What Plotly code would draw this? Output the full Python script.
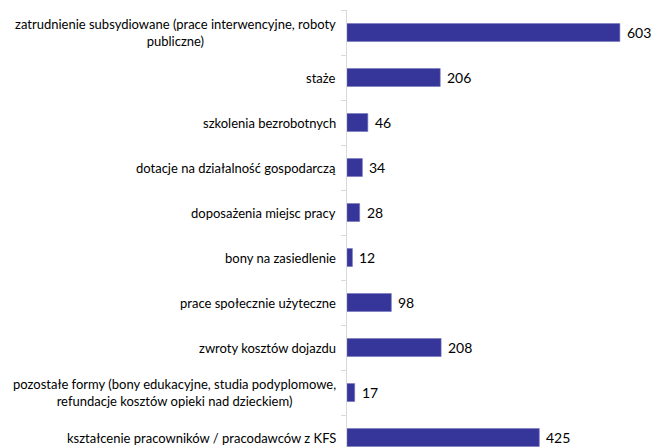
import plotly.graph_objects as go

categories = [
    "zatrudnienie subsydiowane (prace interwencyjne, roboty<br>publiczne)",
    "staże",
    "szkolenia bezrobotnych",
    "dotacje na działalność gospodarczą",
    "doposażenia miejsc pracy",
    "bony na zasiedlenie",
    "prace społecznie użyteczne",
    "zwroty kosztów dojazdu",
    "pozostałe formy (bony edukacyjne, studia podyplomowe,<br>refundacje kosztów opieki nad dzieckiem)",
    "kształcenie pracowników / pracodawców z KFS",
]
values = [603, 206, 46, 34, 28, 12, 98, 208, 17, 425]

idx = list(range(len(categories)))

fig = go.Figure(
    go.Bar(
        x=values,
        y=idx,
        orientation="h",
        width=0.4,
        marker=dict(color="#36359a", line=dict(color="#7675bd", width=0.6)),
        cliponaxis=False,
        hoverinfo="x+y",
    )
)

for i, c in zip(idx, categories):
    fig.add_annotation(
        x=0, xref="paper", y=i, yref="y",
        text=c, showarrow=False,
        xanchor="right", yanchor="middle", align="center",
        xshift=-9,
        font=dict(family="Lato", size=13, color="#000000"),
    )

for i, v in zip(idx, values):
    fig.add_annotation(
        x=v, xref="x", y=i, yref="y",
        text=str(v), showarrow=False,
        xanchor="left", yanchor="middle",
        xshift=5,
        font=dict(family="Lato", size=14, color="#000000"),
    )

fig.update_layout(
    width=652, height=447,
    margin=dict(l=347, r=0, t=10, b=0),
    paper_bgcolor="white", plot_bgcolor="white",
    showlegend=False,
    font=dict(family="Lato"),
    xaxis=dict(range=[0, 674], visible=False, showgrid=False, zeroline=False),
    yaxis=dict(
        range=[9.21, -0.5],
        tickmode="array",
        tickvals=[i - 0.5 for i in idx] + [len(idx) - 0.5],
        ticktext=[""] * (len(idx) + 1),
        ticks="outside", ticklen=5, tickcolor="#d9d9d9",
        showline=True, linecolor="#d9d9d9", linewidth=1,
        showgrid=False, zeroline=False,
    ),
)

fig.write_html(
    "out.html",
    config={"displayModeBar": False},
    post_script="document.body.style.margin='0';document.body.style.overflow='hidden';",
)
